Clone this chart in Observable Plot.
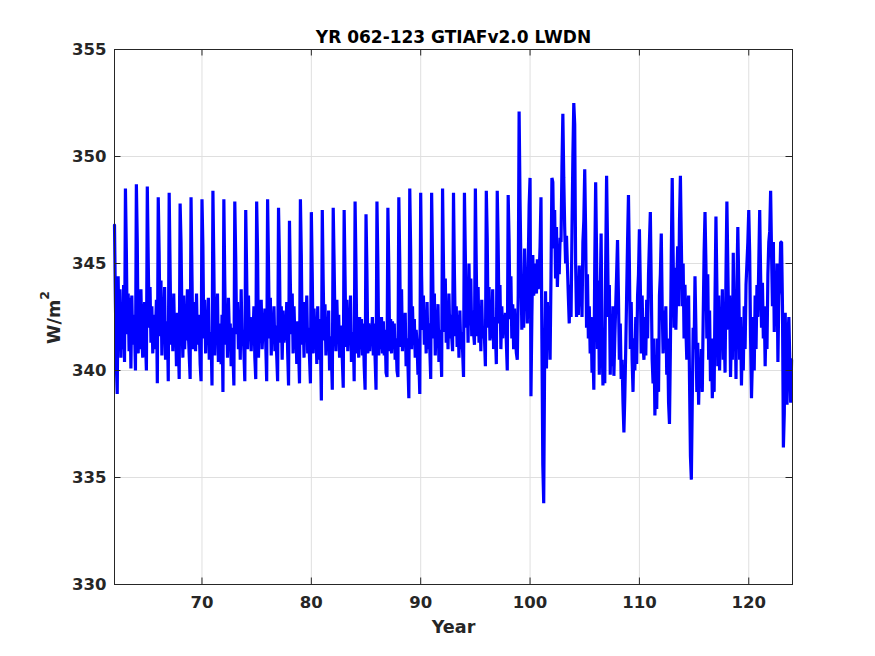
<!DOCTYPE html>
<html><head><meta charset="utf-8">
<script src="https://cdn.jsdelivr.net/npm/d3@7"></script>
<script src="https://cdn.jsdelivr.net/npm/@observablehq/plot@0.6"></script>
<style>
html,body{margin:0;padding:0;background:#fff;}
#chart{width:875px;height:656px;}
</style></head><body><div id="chart"></div>
<script>
// monthly values, one row per model year (year 62 .. 123)
const startYear = 62;
const monthsPerYear = 12;
const lwdn = [
/*62*/ 346.8,343.2,340.3,338.9,344.4,341.2,343.8,340.6,342.9,341.0,344.0,340.4,
/*63*/ 348.5,345.6,341.7,343.6,340.9,343.4,340.1,343.5,341.2,342.6,342.0,340.0,
/*64*/ 348.7,346.0,340.8,342.8,341.0,343.8,341.5,340.6,342.5,343.2,341.5,340.0,
/*65*/ 348.6,345.2,342.0,343.9,341.3,343.0,340.8,342.6,341.0,341.8,343.3,339.4,
/*66*/ 348.1,345.5,341.6,344.2,340.7,342.8,341.8,343.9,340.5,342.0,342.3,339.5,
/*67*/ 348.3,344.8,341.2,343.0,340.9,343.6,341.5,342.4,340.2,342.7,341.3,339.6,
/*68*/ 347.8,346.0,342.5,340.6,343.5,341.0,342.9,341.4,343.8,341.8,340.7,339.6,
/*69*/ 348.1,344.5,341.0,343.2,341.5,340.9,343.6,341.2,342.6,342.0,340.3,339.5,
/*70*/ 348.0,345.8,341.5,343.3,340.8,342.6,341.3,343.4,340.5,341.8,341.5,339.3,
/*71*/ 348.4,345.0,340.7,342.9,341.6,343.6,340.4,342.2,341.5,340.3,342.6,339.0,
/*72*/ 348.0,344.2,341.2,342.9,340.6,343.4,341.8,342.2,340.2,342.0,340.8,339.3,
/*73*/ 347.9,345.3,341.7,343.2,341.0,342.7,340.5,343.8,341.2,341.9,340.9,339.5,
/*74*/ 347.5,344.6,341.0,343.5,341.4,342.5,340.9,342.4,341.6,343.0,340.6,339.6,
/*75*/ 347.9,345.5,340.6,342.8,341.3,343.3,341.0,342.0,341.7,342.9,341.2,339.5,
/*76*/ 348.0,344.9,341.5,343.4,340.7,342.5,341.6,343.0,340.9,342.1,340.7,339.5,
/*77*/ 347.6,345.2,341.3,343.0,340.5,342.8,341.3,342.5,341.4,343.2,340.9,339.3,
/*78*/ 347.0,344.0,341.7,343.6,340.8,343.0,341.4,342.2,340.3,342.3,341.0,339.4,
/*79*/ 348.0,345.4,341.2,342.5,340.6,343.2,341.9,343.5,340.8,342.0,340.6,339.4,
/*80*/ 347.4,344.5,340.8,342.9,341.5,342.2,340.3,343.0,340.5,342.4,341.3,338.6,
/*81*/ 347.5,344.2,341.4,343.1,340.7,342.3,341.2,342.8,340.0,341.6,340.8,339.1,
/*82*/ 347.6,345.0,342.0,340.9,343.3,341.5,342.6,340.6,342.1,341.4,340.5,339.2,
/*83*/ 347.5,344.4,341.1,343.3,340.9,342.3,341.6,343.5,340.4,341.0,341.8,339.5,
/*84*/ 347.9,344.8,340.8,342.2,340.6,342.5,341.0,342.4,340.7,342.2,340.2,339.1,
/*85*/ 347.3,344.6,340.8,342.2,340.9,342.0,341.5,342.5,340.7,342.2,340.5,339.1,
/*86*/ 347.9,345.0,340.7,342.5,341.0,342.5,340.8,342.3,340.7,341.9,339.9,339.7,
/*87*/ 347.6,344.8,340.9,342.4,340.8,342.3,341.6,342.2,340.5,341.5,340.0,339.7,
/*88*/ 348.1,345.2,341.1,343.8,340.9,342.6,341.3,342.7,340.2,341.5,340.3,338.7,
/*89*/ 348.5,345.6,341.0,343.0,341.2,342.4,340.6,341.9,341.3,339.8,340.5,338.9,
/*90*/ 348.3,344.4,341.9,343.5,341.2,342.8,340.8,343.2,341.0,342.2,341.0,339.6,
/*91*/ 348.3,345.2,341.5,343.6,340.7,342.3,341.6,343.1,340.4,341.9,341.2,339.7,
/*92*/ 348.5,345.0,341.8,344.3,341.3,342.9,341.0,343.6,341.5,342.6,341.6,340.9,
/*93*/ 348.3,344.6,341.6,343.0,341.1,342.6,340.6,342.8,341.0,341.8,340.9,339.7,
/*94*/ 348.3,345.4,342.0,343.8,341.3,345.0,342.1,344.3,341.6,342.8,341.8,341.2,
/*95*/ 348.5,344.8,341.6,343.9,341.3,342.9,340.9,343.3,341.5,342.0,341.5,340.2,
/*96*/ 348.4,346.2,342.0,343.9,341.4,343.0,341.5,343.8,341.0,342.5,341.8,340.3,
/*97*/ 348.4,345.9,342.2,344.0,341.0,343.0,341.5,342.6,341.7,342.7,341.3,340.0,
/*98*/ 348.2,346.1,342.4,344.4,341.5,343.1,341.0,342.9,341.6,340.8,340.5,343.5,
/*99*/ 352.1,348.0,344.9,341.9,344.3,342.0,345.7,343.5,344.6,342.2,345.0,347.7,
/*100*/349.0,338.8,342.5,345.4,343.5,345.0,344.0,343.6,345.2,343.8,344.5,345.8,
/*101*/348.1,341.5,335.6,333.8,340.5,343.7,340.1,343.2,341.0,343.0,340.5,344.5,
/*102*/349.0,348.8,345.7,347.5,344.3,346.7,343.9,345.5,344.5,346.2,346.0,349.5,
/*103*/352.0,349.0,346.7,345.0,346.3,344.9,343.5,342.2,344.0,342.5,346.5,350.0,
/*104*/352.5,351.5,345.0,342.5,343.5,342.6,344.9,343.0,344.5,342.5,346.0,347.0,
/*105*/349.4,346.5,342.0,344.5,341.5,343.0,340.8,342.5,339.9,341.0,339.1,345.0,
/*106*/348.8,345.5,341.0,344.2,339.8,343.5,346.4,341.6,339.3,342.0,339.4,345.0,
/*107*/349.1,346.0,342.5,344.0,339.8,342.5,340.2,343.0,339.75,341.5,343.0,344.5,
/*108*/346.1,343.5,340.5,342.2,339.6,340.5,338.5,337.1,338.8,341.0,343.5,346.0,
/*109*/348.2,345.0,341.0,343.2,340.5,339.0,341.5,340.0,342.5,340.3,343.5,344.5,
/*110*/346.6,344.0,340.8,343.5,341.2,340.5,342.5,340.7,343.3,341.5,344.5,346.0,
/*111*/347.4,344.0,340.5,339.4,341.5,337.9,340.0,338.2,341.5,339.0,343.5,344.5,
/*112*/346.4,343.0,340.8,342.8,341.0,343.0,339.8,341.5,338.5,337.5,341.0,345.5,
/*113*/349.0,345.5,342.0,344.8,341.9,344.0,345.8,343.0,347.0,349.1,346.0,343.0,
/*114*/345.0,341.5,344.0,342.0,340.5,342.5,343.5,339.5,336.0,334.9,338.5,342.0,
/*115*/341.0,344.4,342.0,339.0,341.3,338.4,340.5,339.2,341.0,339.0,342.5,345.5,
/*116*/347.4,345.0,341.5,344.5,340.5,342.8,339.5,341.5,338.7,340.5,339.0,343.5,
/*117*/347.2,344.0,340.2,343.5,340.0,342.8,341.0,343.8,340.5,342.0,339.9,344.5,
/*118*/347.9,345.0,341.9,343.5,339.7,342.0,340.5,345.5,341.5,343.0,339.6,344.0,
/*119*/346.7,344.1,340.5,342.5,339.3,341.8,340.0,343.0,341.0,344.0,345.0,346.0,
/*120*/347.5,345.5,341.5,338.7,340.5,342.5,340.0,343.5,341.0,344.0,342.5,345.0,
/*121*/347.5,344.5,342.0,344.1,341.5,343.0,340.2,342.5,341.0,344.5,346.0,346.5,
/*122*/348.4,345.5,343.0,346.0,341.8,344.5,342.5,345.0,340.4,343.5,344.0,346.0,
/*123*/346.0,343.0,336.4,338.0,342.7,340.0,338.4,341.5,342.5,340.5,338.5,340.5
];

const xDomain = [62, 124];
const yDomain = [330, 355];
const xTicks = [70, 80, 90, 100, 110, 120];
const yTicks = [330, 335, 340, 345, 350, 355];
const titleText = "YR 062-123 GTIAFv2.0 LWDN";
const xLabel = "Year";
const yLabelMain = "W/m";
const yLabelSup = "2";

const data = lwdn.map((v, i) => ({t: startYear + i / monthsPerYear, v}));

const W = 875, H = 656, mL = 114, mR = 83, mT = 49, mB = 72;
const tickLen = 6.5;
const xPerPx = (xDomain[1] - xDomain[0]) / (W - mL - mR);
const yPerPx = (yDomain[1] - yDomain[0]) / (H - mT - mB);
const axisColor = "#262626";
const gridColor = "#dfdfdf";
const font = "DejaVu Sans";

const chart = Plot.plot({
  width: W, height: H,
  marginLeft: mL, marginRight: mR, marginTop: mT, marginBottom: mB,
  style: {fontFamily: font, background: "#fff", overflow: "visible"},
  x: {domain: xDomain, axis: null},
  y: {domain: yDomain, axis: null},
  marks: [
    Plot.gridX(xTicks, {stroke: gridColor, strokeOpacity: 1, strokeWidth: 1}),
    Plot.gridY(yTicks, {stroke: gridColor, strokeOpacity: 1, strokeWidth: 1}),
    Plot.line(data, {x: "t", y: "v", stroke: "#0000ff", strokeWidth: 3.2,
      strokeLinejoin: "miter", strokeMiterlimit: 1}),
    Plot.frame({stroke: axisColor, strokeWidth: 1}),
    // inward ticks, bottom/top/left/right
    Plot.ruleX(xTicks, {x: d => d, y1: yDomain[0], y2: yDomain[0] + tickLen * yPerPx, stroke: axisColor}),
    Plot.ruleX(xTicks, {x: d => d, y1: yDomain[1] - tickLen * yPerPx, y2: yDomain[1], stroke: axisColor}),
    Plot.ruleY(yTicks, {y: d => d, x1: xDomain[0], x2: xDomain[0] + tickLen * xPerPx, stroke: axisColor}),
    Plot.ruleY(yTicks, {y: d => d, x1: xDomain[1] - tickLen * xPerPx, x2: xDomain[1], stroke: axisColor}),
    // tick labels
    Plot.text(xTicks, {x: d => d, frameAnchor: "bottom", text: d => String(d), dy: 23.5,
      lineAnchor: "bottom", textAnchor: "middle", fontSize: 16.5, fontWeight: "bold", fill: axisColor}),
    Plot.text(yTicks, {y: d => d, frameAnchor: "left", text: d => String(d), dx: -8,
      lineAnchor: "middle", textAnchor: "end", fontSize: 16.5, fontWeight: "bold", fill: axisColor}),
    // title and x label
    Plot.text([titleText], {frameAnchor: "top", dy: -6.5, lineAnchor: "bottom",
      fontSize: 17, fontWeight: "bold", fill: "#000"}),
    Plot.text([xLabel], {frameAnchor: "bottom", dy: 48.5, lineAnchor: "bottom",
      fontSize: 17.6, fontWeight: "bold", fill: axisColor})
  ]
});

document.getElementById("chart").appendChild(chart);

// y-axis label with superscript
const cy = (mT + (H - mB)) / 2 + 1;
const ylab = d3.select(chart).append("text")
  .attr("transform", `translate(60,${cy}) rotate(-90)`)
  .attr("text-anchor", "middle")
  .attr("font-family", font)
  .attr("font-weight", "bold")
  .attr("font-size", 17.6)
  .attr("fill", axisColor);
ylab.append("tspan").text(yLabelMain);
ylab.append("tspan").attr("dy", -11).attr("font-size", 12.5).text(yLabelSup);
</script>
</body></html>
